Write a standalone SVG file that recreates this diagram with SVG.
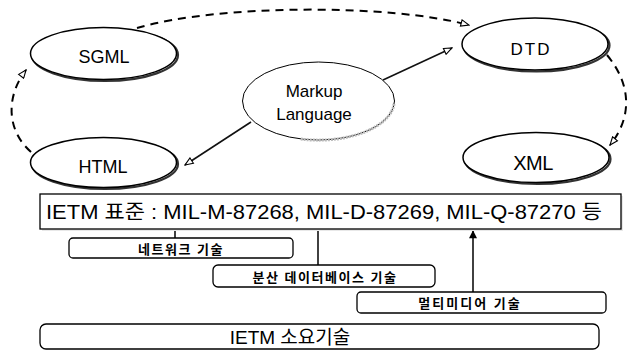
<svg xmlns="http://www.w3.org/2000/svg" width="629" height="352" viewBox="0 0 629 352">
<style>
  .ell { fill: #fff; stroke: #000; stroke-width: 1.5; }
  .shd { fill: none; stroke: #333; stroke-width: 2.2; }
  .lbl { font-family: "Liberation Sans", Arial, sans-serif; fill: #000; text-anchor: middle; }
  .kr { font-family: "Liberation Sans", "Noto Sans CJK KR", sans-serif; fill: #000; }
  .box { fill: #fff; stroke: #000; stroke-width: 1.3; }
  .dash { fill: none; stroke: #000; stroke-width: 2; stroke-dasharray: 8 6; }
  .solid { fill: none; stroke: #111; stroke-width: 1.6; }
</style>
<defs>
  <marker id="hollow" viewBox="0 0 12 10" refX="11" refY="5" markerWidth="10" markerHeight="8" markerUnits="userSpaceOnUse" orient="auto">
    <path d="M1,1 L11,5 L1,9 Z" fill="#fff" stroke="#000" stroke-width="1.4"/>
  </marker>
  <marker id="filled" viewBox="0 0 10 10" refX="9" refY="5" markerWidth="9" markerHeight="8" markerUnits="userSpaceOnUse" orient="auto">
    <path d="M0,0 L10,5 L0,10 Z" fill="#000"/>
  </marker>
</defs>
<rect width="629" height="352" fill="#fff"/>

<g id="connectors">
  <path class="dash" d="M137,28 C220,4 390,4 469,25" marker-end="url(#hollow)"/>
  <path class="dash" d="M607,55 C632,85 632,118 610,145" marker-end="url(#hollow)"/>
  <path class="dash" d="M31,152 C6,130 6,96 26,70" marker-end="url(#hollow)"/>
  <path class="solid" d="M383,80 L452,48" marker-end="url(#hollow)"/>
  <path class="solid" d="M251,122 L185,165" marker-end="url(#hollow)"/>
  <line class="solid" x1="175" y1="229" x2="175" y2="238" stroke-width="1.2"/>
  <line class="solid" x1="318" y1="229" x2="318" y2="265" stroke-width="1.2"/>
  <line class="solid" x1="473" y1="292" x2="473" y2="231" stroke-width="1.4" marker-end="url(#filled)"/>
</g>

<g id="sgml">
  <ellipse class="shd" cx="105" cy="55" rx="73" ry="26"/>
  <ellipse class="ell" cx="103.5" cy="53.5" rx="73" ry="26"/>
  <text class="lbl" x="104" y="63" font-size="18">SGML</text>
</g>
<g id="html">
  <ellipse class="shd" cx="105" cy="164" rx="73" ry="25"/>
  <ellipse class="ell" cx="103.5" cy="162.5" rx="73" ry="25"/>
  <text class="lbl" x="103" y="173" font-size="18">HTML</text>
</g>
<g id="markup">
  <ellipse cx="318.5" cy="101" rx="76" ry="39" fill="#fff" stroke="#000" stroke-width="1"/>
  <path d="M394,104 A76,39 0 0 1 300,139" fill="none" stroke="#bbb" stroke-width="3" stroke-dasharray="2 1"/>
  <text class="lbl" x="314" y="97" font-size="17">Markup</text>
  <text class="lbl" x="314" y="120" font-size="17">Language</text>
</g>
<g id="dtd">
  <ellipse class="shd" cx="536.5" cy="45.5" rx="73" ry="26"/>
  <ellipse class="ell" cx="535" cy="44" rx="73" ry="26"/>
  <text class="lbl" x="531" y="55" font-size="17" letter-spacing="2">DTD</text>
</g>
<g id="xml">
  <ellipse class="shd" cx="537.5" cy="159" rx="73" ry="25"/>
  <ellipse class="ell" cx="536" cy="157.5" rx="73" ry="25"/>
  <text class="lbl" x="533" y="170" font-size="20" letter-spacing="-0.5">XML</text>
</g>

<g id="ietm-standard">
  <rect x="42" y="196" width="581" height="35" fill="#e8e8e8" stroke="none"/>
  <rect class="box" x="40" y="194" width="581" height="35"/>
  <text class="kr" x="46" y="219" font-size="20" textLength="556" lengthAdjust="spacingAndGlyphs">IETM 표준 : MIL-M-87268, MIL-D-87269, MIL-Q-87270 등</text>
</g>
<g id="network">
  <rect class="box" x="69" y="238" width="224" height="20" rx="4"/>
  <text class="kr" x="181" y="253.5" font-size="13" font-weight="bold" letter-spacing="1.5" text-anchor="middle">네트워크 기술</text>
</g>
<g id="distributed-db">
  <rect class="box" x="213" y="265" width="222" height="22" rx="5"/>
  <text class="kr" x="325" y="282" font-size="13" font-weight="bold" letter-spacing="1.5" text-anchor="middle">분산 데이터베이스 기술</text>
</g>
<g id="multimedia">
  <rect class="box" x="357" y="292" width="249" height="21" rx="4"/>
  <text class="kr" x="470" y="308" font-size="13" font-weight="bold" letter-spacing="2" text-anchor="middle">멀티미디어 기술</text>
</g>
<g id="ietm-tech">
  <rect class="box" x="40" y="324" width="559" height="25" rx="6"/>
  <text class="kr" x="290" y="344" font-size="19" text-anchor="middle">IETM 소요기술</text>
</g>
</svg>
